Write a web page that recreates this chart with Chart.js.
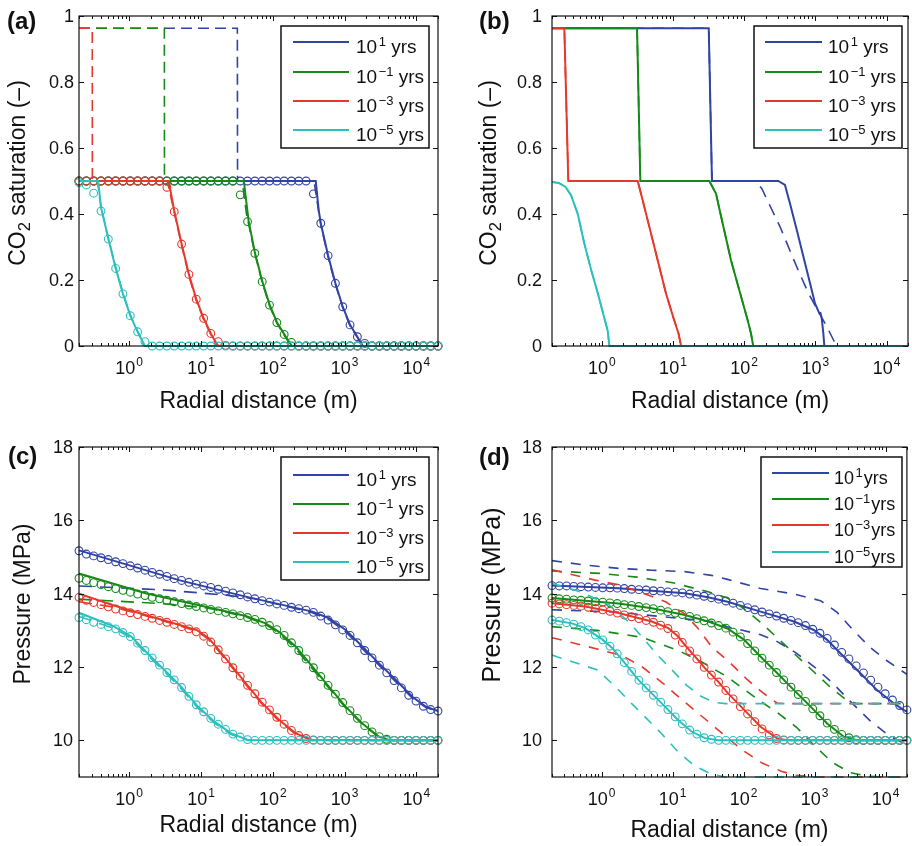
<!DOCTYPE html>
<html>
<head>
<meta charset="utf-8">
<script src="https://cdn.jsdelivr.net/npm/chart.js@4.4.1/dist/chart.umd.min.js"></script>
<style>
  html, body { margin: 0; padding: 0; background: #fff; }
  #wrap { position: relative; width: 912px; height: 846px; }
  canvas { position: absolute; }
</style>
</head>
<body>
<div id="wrap">
  <canvas id="panelA" width="456" height="423" style="left:0;top:0"></canvas>
  <canvas id="panelB" width="456" height="423" style="left:456px;top:0"></canvas>
  <canvas id="panelC" width="456" height="423" style="left:0;top:423px"></canvas>
  <canvas id="panelD" width="456" height="423" style="left:456px;top:423px"></canvas>
</div>
<script>
// ==============================
// DATA
// ==============================
// x positions of the circle markers (m), shared by every panel
const gridX = [0.2, 0.253, 0.32, 0.405, 0.512, 0.648, 0.819, 1.036, 1.31, 1.66,
  2.09, 2.65, 3.35, 4.24, 5.37, 6.79, 8.59, 10.9, 13.7, 17.4,
  22.0, 27.8, 35.2, 44.5, 56.3, 71.2, 90.0, 114, 144, 182,
  230, 291, 368, 466, 589, 745, 942, 1191, 1507, 1906,
  2413, 3053, 3862, 4885, 6180, 7817, 9890, 12510, 15820, 20000];

const xMajorTicks = [1, 10, 100, 1000, 10000];
const satTicks = [0, 0.2, 0.4, 0.6, 0.8, 1];
const satTickLabels = ["0", "0.2", "0.4", "0.6", "0.8", "1"];
const presTicks = [10, 12, 14, 16, 18];
const presTickLabels = ["10", "12", "14", "16", "18"];
const legendExps = ["1", "\u22121", "\u22123", "\u22125"];

// ---- panel (a): saturation, circles ----
const satCircBlueA = [0.5, 0.5, 0.5, 0.5, 0.5, 0.5, 0.5, 0.5, 0.5, 0.5,
  0.5, 0.5, 0.5, 0.5, 0.5, 0.5, 0.5, 0.5, 0.5, 0.5,
  0.5, 0.5, 0.5, 0.5, 0.5, 0.5, 0.5, 0.5, 0.5, 0.5,
  0.5, 0.5, 0.461, 0.372, 0.274, 0.19, 0.119, 0.064, 0.028, 0.008,
  0, 0, 0, 0, 0, 0, 0, 0, 0, 0];
const satCircGreenA = [0.5, 0.5, 0.5, 0.5, 0.5, 0.5, 0.5, 0.5, 0.5, 0.5,
  0.5, 0.5, 0.5, 0.5, 0.5, 0.5, 0.5, 0.5, 0.5, 0.5,
  0.5, 0.5, 0.458, 0.377, 0.281, 0.195, 0.124, 0.071, 0.035, 0.011,
  0, 0, 0, 0, 0, 0, 0, 0, 0, 0,
  0, 0, 0, 0, 0, 0, 0, 0, 0, 0];
const satCircRedA = [0.5, 0.5, 0.5, 0.5, 0.5, 0.5, 0.5, 0.5, 0.5, 0.5,
  0.5, 0.5, 0.481, 0.407, 0.309, 0.217, 0.142, 0.084, 0.038, 0.013,
  0.002, 0, 0, 0, 0, 0, 0, 0, 0, 0,
  0, 0, 0, 0, 0, 0, 0, 0, 0, 0,
  0, 0, 0, 0, 0, 0, 0, 0, 0, 0];
const satCircCyanA = [0.495, 0.488, 0.463, 0.409, 0.324, 0.235, 0.158, 0.092, 0.043, 0.013,
  0, 0, 0, 0, 0, 0, 0, 0, 0, 0,
  0, 0, 0, 0, 0, 0, 0, 0, 0, 0,
  0, 0, 0, 0, 0, 0, 0, 0, 0, 0,
  0, 0, 0, 0, 0, 0, 0, 0, 0, 0];

// ---- panel (a): lines [x, y] ----
const satSolidBlueA = [[0.2, 0.5], [396, 0.5], [437, 0.41], [466, 0.372], [589, 0.274], [745, 0.19], [942, 0.119], [1191, 0.064], [1507, 0.028], [1700, 0.008], [1800, 0], [20000, 0]];
const satDashBlueA = [[0.2, 0.963], [32.1, 0.963], [32.3, 0.5], [375, 0.5], [420, 0.43], [466, 0.368], [589, 0.27], [745, 0.186], [942, 0.116], [1191, 0.061], [1507, 0.026], [1680, 0.006], [1760, 0], [20000, 0]];
const satSolidGreenA = [[0.2, 0.5], [39.5, 0.5], [46, 0.38], [56.3, 0.283], [71.2, 0.197], [90, 0.126], [114, 0.072], [144, 0.036], [172, 0.01], [185, 0], [20000, 0]];
const satDashGreenA = [[0.2, 0.963], [3.09, 0.963], [3.1, 0.5], [37.5, 0.5], [43, 0.4], [56.3, 0.28], [71.2, 0.193], [90, 0.122], [114, 0.069], [144, 0.033], [170, 0.008], [180, 0], [20000, 0]];
const satSolidRedA = [[0.2, 0.5], [3.55, 0.5], [4.24, 0.41], [5.37, 0.31], [6.79, 0.217], [8.59, 0.142], [10.9, 0.084], [13.7, 0.038], [16.2, 0.01], [17.5, 0], [20000, 0]];
const satDashRedA = [[0.2, 0.963], [0.306, 0.963], [0.307, 0.5], [3.4, 0.5], [4.1, 0.42], [5.37, 0.305], [6.79, 0.212], [8.59, 0.138], [10.9, 0.08], [13.7, 0.035], [16.0, 0.008], [17, 0], [20000, 0]];
const satSolidCyanA = [[0.2, 0.5], [0.37, 0.5], [0.405, 0.42], [0.512, 0.326], [0.648, 0.236], [0.819, 0.158], [1.036, 0.092], [1.31, 0.043], [1.55, 0.012], [1.65, 0], [20000, 0]];
const satDashCyanA = [[0.2, 0.5], [0.36, 0.5], [0.4, 0.43], [0.5, 0.335], [0.648, 0.24], [0.819, 0.16], [1.036, 0.095], [1.31, 0.045], [1.52, 0.012], [1.62, 0], [20000, 0]];

// ---- panel (b): lines [x, y] ----
const satSolidBlueB = [[0.2, 0.963], [31.8, 0.963], [35.3, 0.5], [301, 0.5], [374, 0.488], [440, 0.432], [547, 0.352], [678, 0.271], [842, 0.19], [989, 0.129], [1137, 0.099], [1180, 0.1], [1228, 0.084], [1294, 0.038], [1337, 0], [20000, 0]];
const satDashBlueB = [[0.2, 0.963], [31.8, 0.963], [35.3, 0.5], [140, 0.5], [176, 0.478], [318, 0.362], [547, 0.24], [798, 0.16], [1104, 0.104], [1446, 0.059], [1849, 0.013], [1900, 0], [20000, 0]];
const satSolidGreenB = [[0.2, 0.963], [3.13, 0.963], [3.48, 0.5], [32.4, 0.5], [40.2, 0.462], [49.9, 0.371], [65.3, 0.26], [85.5, 0.169], [112, 0.078], [125, 0.037], [134, 0], [20000, 0]];
const satSolidRedB = [[0.2, 0.963], [0.298, 0.963], [0.339, 0.5], [3.2, 0.5], [3.76, 0.441], [4.66, 0.361], [6.1, 0.26], [7.98, 0.159], [10.4, 0.078], [12.0, 0.037], [13.0, 0], [20000, 0]];
const satSolidCyanB = [[0.2, 0.497], [0.25, 0.494], [0.31, 0.482], [0.37, 0.457], [0.46, 0.40], [0.57, 0.31], [0.71, 0.23], [0.88, 0.16], [1.09, 0.083], [1.21, 0.047], [1.28, 0], [20000, 0]];

// ---- panel (c): pressure, circles ----
const presCircBlueC = [15.17, 15.08, 15.03, 14.98, 14.93, 14.87, 14.82, 14.76, 14.70, 14.64,
  14.58, 14.53, 14.47, 14.41, 14.36, 14.31, 14.26, 14.21, 14.17, 14.12,
  14.07, 14.02, 13.97, 13.91, 13.86, 13.81, 13.77, 13.72, 13.68, 13.63,
  13.59, 13.55, 13.49, 13.39, 13.28, 13.15, 13.01, 12.86, 12.66, 12.45,
  12.25, 12.05, 11.84, 11.63, 11.43, 11.23, 11.07, 10.93, 10.84, 10.80];
const presCircGreenC = [14.42, 14.36, 14.30, 14.25, 14.19, 14.14, 14.09, 14.04, 13.99, 13.95,
  13.90, 13.86, 13.82, 13.78, 13.73, 13.69, 13.65, 13.61, 13.57, 13.53,
  13.49, 13.45, 13.40, 13.35, 13.30, 13.22, 13.13, 13.02, 12.86, 12.66,
  12.45, 12.22, 11.98, 11.74, 11.50, 11.26, 11.03, 10.81, 10.60, 10.40,
  10.23, 10.10, 10.03, 10.00, 10, 10, 10, 10, 10, 10];
const presCircRedC = [13.90, 13.82, 13.76, 13.70, 13.64, 13.58, 13.53, 13.48, 13.43, 13.38,
  13.33, 13.27, 13.22, 13.16, 13.10, 13.04, 12.96, 12.84, 12.68, 12.47,
  12.22, 11.98, 11.75, 11.50, 11.27, 11.04, 10.83, 10.63, 10.44, 10.27,
  10.13, 10.05, 10.01, 10, 10, 10, 10, 10, 10, 10,
  10, 10, 10, 10, 10, 10, 10, 10, 10, 10];
const presCircCyanC = [13.35, 13.29, 13.22, 13.16, 13.10, 13.04, 12.94, 12.83, 12.65, 12.45,
  12.25, 12.05, 11.85, 11.65, 11.44, 11.20, 10.97, 10.78, 10.60, 10.44,
  10.30, 10.17, 10.09, 10.02, 10, 10, 10, 10, 10, 10,
  10, 10, 10, 10, 10, 10, 10, 10, 10, 10,
  10, 10, 10, 10, 10, 10, 10, 10, 10, 10];

// ---- panel (c): lines [x, y] ----
const presSolidBlueC = [[0.2, 15.18], [4.94, 14.37], [41.9, 13.92], [356, 13.51], [607, 13.33], [1035, 13.01], [1766, 12.56], [3013, 12.1], [5140, 11.65], [8790, 11.19], [13460, 10.92], [20000, 10.8]];
const presDashBlueC = [[0.2, 14.21], [3.16, 14.1], [22.4, 13.96], [56.2, 13.86], [174, 13.63], [356, 13.48], [607, 13.29], [1035, 12.96], [1766, 12.5], [3013, 12.05], [5140, 11.6], [8790, 11.15], [13460, 10.9], [20000, 10.78]];
const presSolidGreenC = [[0.2, 14.55], [1.69, 14.01], [14.4, 13.6], [41.9, 13.39], [79.6, 13.19], [122, 12.96], [208, 12.56], [356, 12.01], [607, 11.46], [1035, 10.92], [1766, 10.46], [3013, 10.1], [4150, 10.01], [20000, 10]];
const presDashGreenC = [[0.2, 13.85], [2.82, 13.73], [10, 13.63], [14.4, 13.58], [41.9, 13.37], [79.6, 13.16], [122, 12.92], [208, 12.5], [356, 11.95], [607, 11.42], [1035, 10.88], [1766, 10.44], [3013, 10.08], [4150, 10], [20000, 10]];
const presSolidRedC = [[0.2, 14.0], [0.582, 13.69], [1.69, 13.42], [4.94, 13.15], [8.9, 13.0], [12.6, 12.8], [17.8, 12.46], [27.4, 12.01], [41.9, 11.56], [71.6, 11.01], [122, 10.56], [208, 10.19], [356, 10.01], [20000, 10]];
const presDashRedC = [[0.2, 13.78], [0.582, 13.64], [1.69, 13.4], [4.94, 13.13], [8.9, 12.97], [12.6, 12.76], [17.8, 12.42], [27.4, 11.97], [41.9, 11.52], [71.6, 10.98], [122, 10.53], [208, 10.17], [356, 10.0], [20000, 10]];
const presSolidCyanC = [[0.2, 13.48], [0.62, 13.1], [1.07, 12.83], [1.81, 12.37], [3.1, 11.92], [5.28, 11.46], [9.06, 10.92], [15.4, 10.51], [26.3, 10.19], [45, 10.01], [20000, 10]];
const presDashCyanC = [[0.2, 13.38], [0.62, 13.05], [1.07, 12.78], [1.81, 12.32], [3.1, 11.87], [5.28, 11.41], [9.06, 10.88], [15.4, 10.47], [26.3, 10.16], [45, 10.0], [20000, 10]];

// ---- panel (d): pressure, circles ----
const presCircBlueD = [14.22, 14.21, 14.21, 14.20, 14.19, 14.18, 14.17, 14.16, 14.16, 14.15,
  14.14, 14.12, 14.11, 14.10, 14.08, 14.07, 14.05, 14.04, 14.02, 13.99,
  13.96, 13.93, 13.89, 13.85, 13.80, 13.74, 13.68, 13.62, 13.56, 13.50,
  13.45, 13.39, 13.33, 13.27, 13.21, 13.13, 13.03, 12.92, 12.78, 12.60,
  12.40, 12.22, 12.03, 11.84, 11.64, 11.45, 11.27, 11.10, 10.95, 10.83];
const presCircGreenD = [13.88, 13.86, 13.85, 13.83, 13.82, 13.80, 13.78, 13.77, 13.75, 13.73,
  13.70, 13.68, 13.65, 13.62, 13.59, 13.55, 13.51, 13.47, 13.43, 13.38,
  13.32, 13.26, 13.20, 13.13, 13.06, 12.95, 12.82, 12.64, 12.44, 12.24,
  12.05, 11.85, 11.65, 11.45, 11.25, 11.06, 10.86, 10.67, 10.47, 10.30,
  10.16, 10.07, 10.02, 10.00, 10, 10, 10, 10, 10, 10];
const presCircRedD = [13.74, 13.72, 13.70, 13.68, 13.66, 13.63, 13.60, 13.56, 13.52, 13.47,
  13.42, 13.37, 13.32, 13.27, 13.22, 13.14, 13.05, 12.87, 12.67, 12.44,
  12.22, 11.99, 11.78, 11.59, 11.36, 11.13, 10.92, 10.72, 10.51, 10.31,
  10.15, 10.05, 10.01, 10, 10, 10, 10, 10, 10, 10,
  10, 10, 10, 10, 10, 10, 10, 10, 10, 10];
const presCircCyanD = [13.28, 13.25, 13.21, 13.17, 13.10, 13.01, 12.87, 12.74, 12.57, 12.36,
  12.12, 11.88, 11.64, 11.43, 11.23, 11.04, 10.84, 10.64, 10.45, 10.28,
  10.17, 10.07, 10.03, 10.00, 10, 10, 10, 10, 10, 10,
  10, 10, 10, 10, 10, 10, 10, 10, 10, 10,
  10, 10, 10, 10, 10, 10, 10, 10, 10, 10];

// ---- panel (d): lines [x, y] ----
const presSolidBlueD = [[0.2, 14.22], [1.73, 14.15], [14.9, 14.01], [31.6, 13.9], [59.3, 13.78], [174, 13.51], [512, 13.24], [977, 13.01], [1503, 12.74], [2582, 12.28], [4426, 11.83], [7586, 11.37], [13000, 11.01], [17950, 10.83], [20000, 10.78]];
const presUpperBlueD = [[0.2, 14.9], [0.587, 14.78], [1.73, 14.69], [5.08, 14.64], [14.9, 14.6], [35.3, 14.5], [59.3, 14.39], [174, 14.14], [512, 13.99], [1213, 13.81], [2080, 13.49], [3565, 12.99], [6109, 12.53], [10470, 12.17], [20000, 11.8]];
const presLowerBlueD = [[0.2, 13.56], [1.585, 13.5], [5.08, 13.4], [35.5, 13.24], [59.3, 13.1], [174, 12.88], [282, 12.72], [535, 12.4], [1000, 12.0], [1778, 11.57], [3311, 11.03], [6310, 10.5], [11750, 10.1], [20000, 9.88]];
const presSolidGreenD = [[0.2, 13.88], [1.73, 13.73], [5.08, 13.6], [14.9, 13.42], [31.8, 13.24], [59.3, 13.05], [102, 12.74], [174, 12.28], [299, 11.83], [512, 11.37], [879, 10.92], [1503, 10.46], [2582, 10.1], [3981, 10.0], [20000, 10.0]];
const presUpperGreenD = [[0.2, 14.62], [1, 14.55], [3.16, 14.45], [10, 14.3], [31.6, 14.05], [59.3, 13.88], [100, 13.6], [178, 13.2], [316, 12.75], [562, 12.3], [1000, 11.85], [1778, 11.4], [2818, 11.1], [3981, 11.0], [20000, 11.0]];
const presLowerGreenD = [[0.2, 13.1], [0.875, 13.0], [3.67, 12.81], [11.7, 12.46], [25.1, 12.15], [60.3, 11.72], [100, 11.4], [178, 11.05], [316, 10.72], [562, 10.35], [1000, 9.85], [1778, 9.4], [3162, 9.12], [5623, 9.02], [10000, 9.0], [20000, 9.0]];
const presSolidRedD = [[0.2, 13.74], [0.587, 13.65], [1.73, 13.47], [5.08, 13.24], [8.71, 13.06], [12.0, 12.83], [14.9, 12.6], [20.6, 12.29], [28.5, 11.97], [43.9, 11.6], [60.5, 11.28], [102, 10.83], [174, 10.37], [299, 10.05], [413, 10.0], [20000, 10.0]];
const presUpperRedD = [[0.2, 14.65], [0.813, 14.37], [1.73, 14.24], [3.89, 14.01], [7.94, 13.78], [14.8, 13.45], [22.4, 13.07], [35.5, 12.55], [60.3, 12.17], [112, 11.66], [186, 11.3], [295, 11.02], [398, 11.0], [20000, 11.0]];
const presLowerRedD = [[0.2, 12.8], [0.832, 12.5], [2.0, 12.3], [3.75, 12.0], [7.16, 11.57], [13.7, 11.1], [26.1, 10.65], [49.9, 10.19], [95.3, 9.74], [182, 9.38], [347, 9.15], [537, 9.05], [1000, 9.0], [20000, 9.0]];
const presSolidCyanD = [[0.2, 13.28], [0.382, 13.19], [0.587, 13.06], [1.01, 12.76], [1.41, 12.52], [2.14, 12.1], [3.3, 11.65], [5.08, 11.28], [7.82, 10.92], [12.0, 10.55], [18.5, 10.24], [28.5, 10.06], [43.9, 10.0], [20000, 10.0]];
const presUpperCyanD = [[0.2, 14.28], [0.501, 14.05], [1.26, 13.7], [2.51, 13.2], [3.98, 12.75], [6.31, 12.3], [10, 11.9], [15.8, 11.5], [25.1, 11.2], [39.8, 11.03], [56.2, 11.0], [20000, 11.0]];
const presLowerCyanD = [[0.2, 12.33], [0.234, 12.28], [0.874, 11.92], [1.55, 11.47], [2.66, 11.0], [7.02, 10.18], [12.0, 9.68], [20.6, 9.3], [35, 9.08], [55, 9.0], [20000, 9.0]];

// ==============================
// STYLE
// ==============================
const FONT = '"Liberation Sans", Arial, Helvetica, sans-serif';
const BLUE = "#3143a4";
const GREEN = "#168a18";
const RED = "#e6392c";
const CYAN = "#2cbfbf";
const COLORS = [BLUE, GREEN, RED, CYAN];
const W = 456, H = 423;
const TICK_FONT = 18;

// ==============================
// DATASET HELPERS
// ==============================
function pairs(arr) {
  return arr.map(p => ({ x: p[0], y: p[1] }));
}

function solid(arr, color) {
  return { data: pairs(arr), borderColor: color, borderWidth: 2, pointRadius: 0, tension: 0, clip: false };
}

function dashed(arr, color, dash) {
  return { data: pairs(arr), borderColor: color, borderWidth: 1.6, borderDash: dash || [11, 6], pointRadius: 0, tension: 0, clip: false };
}

function circles(ys, color) {
  return {
    data: gridX.map((x, i) => ({ x: x, y: ys[i] })),
    showLine: false,
    borderColor: color,
    pointRadius: 3.9,
    pointBorderWidth: 1.1,
    pointBorderColor: color,
    pointBackgroundColor: "rgba(0,0,0,0)",
    clip: false,
  };
}

// ==============================
// DRAW HELPERS
// ==============================
function drawSup(ctx, x, y, base, sup, size, supSize, rise, gap) {
  ctx.font = size + "px " + FONT;
  ctx.fillText(base, x, y);
  const w1 = ctx.measureText(base).width;
  ctx.font = supSize + "px " + FONT;
  ctx.fillText(sup, x + w1 + gap, y - rise);
  return w1 + gap + ctx.measureText(sup).width;
}

function measureSup(ctx, base, sup, size, supSize, gap) {
  ctx.font = size + "px " + FONT;
  const w1 = ctx.measureText(base).width;
  ctx.font = supSize + "px " + FONT;
  return w1 + gap + ctx.measureText(sup).width;
}

function drawYTitle(ctx, t) {
  ctx.save();
  ctx.translate(t.x, t.y);
  ctx.rotate(-Math.PI / 2);
  ctx.textBaseline = "middle";
  ctx.textAlign = "left";
  let total = 0;
  t.parts.forEach(p => {
    ctx.font = (p.sub ? t.size * 0.72 : t.size) + "px " + FONT;
    total += ctx.measureText(p.text).width;
  });
  let x = -total / 2;
  t.parts.forEach(p => {
    ctx.font = (p.sub ? t.size * 0.72 : t.size) + "px " + FONT;
    ctx.fillText(p.text, x, p.sub ? t.size * 0.3 : 0);
    x += ctx.measureText(p.text).width;
  });
  ctx.restore();
}

function drawLegend(ctx, lg) {
  const b = lg.box;
  ctx.save();
  ctx.fillStyle = "#fff";
  ctx.fillRect(b[0], b[1], b[2] - b[0], b[3] - b[1]);
  ctx.strokeStyle = "#111";
  ctx.lineWidth = 1.5;
  ctx.strokeRect(b[0], b[1], b[2] - b[0], b[3] - b[1]);
  lg.rows.forEach((ry, i) => {
    ctx.strokeStyle = COLORS[i];
    ctx.lineWidth = 2;
    ctx.beginPath();
    ctx.moveTo(lg.line[0], ry);
    ctx.lineTo(lg.line[1], ry);
    ctx.stroke();
    ctx.fillStyle = "#111";
    ctx.textAlign = "left";
    ctx.textBaseline = "alphabetic";
    const w = drawSup(ctx, lg.textX, ry + 10.5, "10", legendExps[i], lg.size, 13, 7, 1.5);
    ctx.font = lg.size + "px " + FONT;
    ctx.fillText(lg.tail, lg.textX + w + lg.tailGap, ry + 10.5);
  });
  ctx.restore();
}

// ==============================
// DECORATION PLUGIN (frame, ticks, labels, legend)
// ==============================
function decor(spec) {
  return {
    id: "decor",
    afterDatasetsDraw(chart) {
      const ctx = chart.ctx;
      const a = chart.chartArea;
      const xs = chart.scales.x;
      const ys = chart.scales.y;
      ctx.save();

      // axes box
      ctx.strokeStyle = "#111";
      ctx.lineWidth = 1.2;
      ctx.strokeRect(a.left, a.top, a.right - a.left, a.bottom - a.top);

      // inner ticks
      ctx.lineWidth = 1;
      ctx.beginPath();
      spec.yTicks.forEach(v => {
        const y = Math.round(ys.getPixelForValue(v)) + 0.5;
        ctx.moveTo(a.left, y); ctx.lineTo(a.left + 5, y);
        ctx.moveTo(a.right, y); ctx.lineTo(a.right - 5, y);
      });
      xMajorTicks.forEach(v => {
        const x = Math.round(xs.getPixelForValue(v)) + 0.5;
        ctx.moveTo(x, a.bottom); ctx.lineTo(x, a.bottom - 5);
        ctx.moveTo(x, a.top); ctx.lineTo(x, a.top + 5);
      });
      for (let d = 0.1; d < 20000; d *= 10) {
        for (let m = 2; m <= 9; m++) {
          const v = m * d;
          if (v < 0.2 || v > 20000) continue;
          const x = Math.round(xs.getPixelForValue(v)) + 0.5;
          ctx.moveTo(x, a.bottom); ctx.lineTo(x, a.bottom - 3);
          ctx.moveTo(x, a.top); ctx.lineTo(x, a.top + 3);
        }
      }
      ctx.stroke();

      // y tick labels
      ctx.fillStyle = "#111";
      ctx.font = TICK_FONT + "px " + FONT;
      ctx.textAlign = "right";
      ctx.textBaseline = "middle";
      spec.yTicks.forEach((v, i) => {
        ctx.fillText(spec.yLabels[i], a.left - spec.yGap, ys.getPixelForValue(v) + 1);
      });

      // x tick labels 10^n
      ctx.textAlign = "left";
      ctx.textBaseline = "alphabetic";
      xMajorTicks.forEach(v => {
        const e = String(Math.round(Math.log10(v)));
        const w = measureSup(ctx, "10", e, TICK_FONT, 12, 1);
        drawSup(ctx, xs.getPixelForValue(v) - w / 2, a.bottom + 28, "10", e, TICK_FONT, 12, 8, 1);
      });

      // x axis title
      ctx.textAlign = "center";
      ctx.font = "23px " + FONT;
      ctx.fillText("Radial distance (m)", (a.left + a.right) / 2, spec.xTitleY);

      // y axis title
      drawYTitle(ctx, spec.yTitle);

      // panel label
      ctx.textAlign = "left";
      ctx.textBaseline = "middle";
      ctx.font = "bold 24px " + FONT;
      ctx.fillText(spec.label, spec.labelPos[0], spec.labelPos[1]);

      drawLegend(ctx, spec.legend);
      ctx.restore();
    },
  };
}

// ==============================
// CHART FACTORY
// ==============================
function makeChart(id, spec, datasets) {
  // first dataset at the bottom, last on top
  datasets.forEach((d, i) => { d.order = datasets.length - i; });
  return new Chart(document.getElementById(id), {
    type: "line",
    data: { datasets: datasets },
    options: {
      responsive: false,
      animation: false,
      events: [],
      layout: { padding: { left: 0, top: spec.area.t, right: W - spec.area.r, bottom: 0 } },
      plugins: { legend: { display: false }, tooltip: { enabled: false } },
      scales: {
        x: {
          type: "logarithmic", min: 0.2, max: 20000,
          ticks: { display: false }, grid: { display: false }, border: { display: false },
          afterFit: s => { s.height = H - spec.area.b; },
        },
        y: {
          type: "linear", min: spec.yMin, max: spec.yMax,
          ticks: { display: false }, grid: { display: false }, border: { display: false },
          afterFit: s => { s.width = spec.area.l; },
        },
      },
    },
    plugins: [decor(spec)],
  });
}

const satTitle = [{ text: "CO" }, { text: "2", sub: true }, { text: " saturation (\u2013)" }];
const presTitle = [{ text: "Pressure (MPa)" }];

// ==============================
// PANELS
// ==============================
makeChart("panelA", {
  area: { l: 79, r: 438, t: 16, b: 346 },
  yMin: 0, yMax: 1, yTicks: satTicks, yLabels: satTickLabels, yGap: 5,
  xTitleY: 408,
  yTitle: { x: 19, y: 173, size: 23, parts: satTitle },
  label: "(a)", labelPos: [7, 22],
  legend: { box: [281, 26, 429, 148], rows: [42, 72, 101, 130], line: [293, 349], textX: 356, size: 19, tail: " yrs", tailGap: 0 },
}, [
  dashed(satDashBlueA, BLUE), solid(satSolidBlueA, BLUE), circles(satCircBlueA, BLUE),
  dashed(satDashGreenA, GREEN), solid(satSolidGreenA, GREEN), circles(satCircGreenA, GREEN),
  dashed(satDashRedA, RED), solid(satSolidRedA, RED), circles(satCircRedA, RED),
  dashed(satDashCyanA, CYAN), solid(satSolidCyanA, CYAN), circles(satCircCyanA, CYAN),
]);

makeChart("panelB", {
  area: { l: 96, r: 452, t: 16, b: 346 },
  yMin: 0, yMax: 1, yTicks: satTicks, yLabels: satTickLabels, yGap: 10,
  xTitleY: 408,
  yTitle: { x: 34, y: 173, size: 23, parts: satTitle },
  label: "(b)", labelPos: [23, 22],
  legend: { box: [298, 26, 446, 148], rows: [42, 72, 101, 130], line: [309, 366], textX: 372, size: 19, tail: " yrs", tailGap: 0 },
}, [
  dashed(satDashBlueB, BLUE, [12, 8]), solid(satSolidBlueB, BLUE),
  dashed(satSolidGreenB, GREEN), solid(satSolidGreenB, GREEN),
  dashed(satSolidRedB, RED), solid(satSolidRedB, RED),
  dashed(satSolidCyanB, CYAN), solid(satSolidCyanB, CYAN),
]);

makeChart("panelC", {
  area: { l: 79, r: 438, t: 24, b: 354 },
  yMin: 9, yMax: 18, yTicks: presTicks, yLabels: presTickLabels, yGap: 6,
  xTitleY: 409,
  yTitle: { x: 24, y: 181, size: 23, parts: presTitle },
  label: "(c)", labelPos: [8, 34],
  legend: { box: [281, 34, 429, 157], rows: [52, 81, 110, 139], line: [293, 349], textX: 356, size: 19, tail: " yrs", tailGap: 0 },
}, [
  dashed(presDashBlueC, BLUE, [13, 8]), solid(presSolidBlueC, BLUE), circles(presCircBlueC, BLUE),
  dashed(presDashGreenC, GREEN, [13, 8]), solid(presSolidGreenC, GREEN), circles(presCircGreenC, GREEN),
  dashed(presDashRedC, RED, [13, 8]), solid(presSolidRedC, RED), circles(presCircRedC, RED),
  dashed(presDashCyanC, CYAN, [13, 8]), solid(presSolidCyanC, CYAN), circles(presCircCyanC, CYAN),
]);

makeChart("panelD", {
  area: { l: 96, r: 452, t: 24, b: 354 },
  yMin: 9, yMax: 18, yTicks: presTicks, yLabels: presTickLabels, yGap: 10,
  xTitleY: 414,
  yTitle: { x: 37, y: 172, size: 25, parts: presTitle },
  label: "(d)", labelPos: [23, 35],
  legend: { box: [305, 34, 446, 144], rows: [50, 76, 102, 129], line: [316, 373], textX: 378, size: 18, tail: "yrs", tailGap: 1 },
}, [
  dashed(presUpperBlueD, BLUE, [10, 9]), dashed(presLowerBlueD, BLUE, [10, 9]), solid(presSolidBlueD, BLUE), circles(presCircBlueD, BLUE),
  dashed(presUpperGreenD, GREEN, [10, 9]), dashed(presLowerGreenD, GREEN, [10, 9]), solid(presSolidGreenD, GREEN), circles(presCircGreenD, GREEN),
  dashed(presUpperRedD, RED, [10, 9]), dashed(presLowerRedD, RED, [10, 9]), solid(presSolidRedD, RED), circles(presCircRedD, RED),
  dashed(presUpperCyanD, CYAN, [10, 9]), dashed(presLowerCyanD, CYAN, [10, 9]), solid(presSolidCyanD, CYAN), circles(presCircCyanD, CYAN),
]);
</script>
</body>
</html>
